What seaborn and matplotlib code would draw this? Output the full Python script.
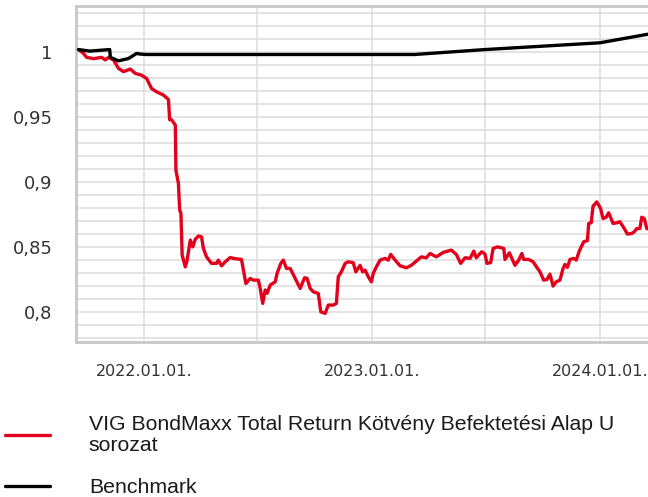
import matplotlib
matplotlib.use("Agg")
import matplotlib.pyplot as plt
import matplotlib.dates as mdates
from matplotlib.ticker import MultipleLocator, FuncFormatter
from matplotlib.font_manager import FontProperties
import pandas as pd
import seaborn as sns

# Fund (red) series
fund_dates = [
    "2021-09-18", "2021-09-26", "2021-10-01", "2021-10-12", "2021-10-25", "2021-10-31",
    "2021-11-05", "2021-11-13", "2021-11-21", "2021-11-29", "2021-12-10", "2021-12-18",
    "2021-12-28", "2022-01-05", "2022-01-13", "2022-01-21", "2022-02-01", "2022-02-09",
    "2022-02-11", "2022-02-14", "2022-02-20", "2022-02-21", "2022-02-25", "2022-02-27",
    "2022-03-01", "2022-03-03", "2022-03-08", "2022-03-11", "2022-03-16", "2022-03-20",
    "2022-03-24", "2022-03-29", "2022-04-03", "2022-04-06", "2022-04-11", "2022-04-19",
    "2022-04-27", "2022-04-30", "2022-05-05", "2022-05-11", "2022-05-19", "2022-05-24",
    "2022-06-06", "2022-06-13", "2022-06-20", "2022-06-25", "2022-07-03", "2022-07-06",
    "2022-07-10", "2022-07-14", "2022-07-17", "2022-07-22", "2022-07-30", "2022-08-02",
    "2022-08-08", "2022-08-12", "2022-08-17", "2022-08-23", "2022-08-31", "2022-09-08",
    "2022-09-15", "2022-09-19", "2022-09-24", "2022-09-29", "2022-10-07", "2022-10-11",
    "2022-10-18", "2022-10-23", "2022-10-31", "2022-11-05", "2022-11-08", "2022-11-13",
    "2022-11-19", "2022-11-24", "2022-12-02", "2022-12-06", "2022-12-13", "2022-12-17",
    "2022-12-21", "2022-12-26", "2022-12-31", "2023-01-03", "2023-01-08", "2023-01-14",
    "2023-01-22", "2023-01-27", "2023-01-31", "2023-02-07", "2023-02-15", "2023-02-25",
    "2023-03-05", "2023-03-13", "2023-03-21", "2023-03-29", "2023-04-04", "2023-04-14",
    "2023-04-25", "2023-05-08", "2023-05-16", "2023-05-23", "2023-05-30", "2023-06-07",
    "2023-06-13", "2023-06-17", "2023-06-23", "2023-06-26", "2023-07-01", "2023-07-04",
    "2023-07-10", "2023-07-14", "2023-07-21", "2023-07-31", "2023-08-02", "2023-08-09",
    "2023-08-13", "2023-08-18", "2023-08-24", "2023-08-29", "2023-09-01", "2023-09-09",
    "2023-09-16", "2023-09-22", "2023-09-27", "2023-10-03", "2023-10-08", "2023-10-13",
    "2023-10-18", "2023-10-23", "2023-10-29", "2023-11-03", "2023-11-06", "2023-11-10",
    "2023-11-14", "2023-11-20", "2023-11-24", "2023-11-29", "2023-12-06", "2023-12-12",
    "2023-12-14", "2023-12-18", "2023-12-21", "2023-12-27", "2024-01-02", "2024-01-06",
    "2024-01-11", "2024-01-15", "2024-01-18", "2024-01-22", "2024-01-28", "2024-02-02",
    "2024-02-09", "2024-02-14", "2024-02-21", "2024-02-25", "2024-02-29", "2024-03-05",
    "2024-03-08", "2024-03-12", "2024-03-16", "2024-03-18",
]
fund_values = [
    1.002, 0.999, 0.996, 0.995, 0.996, 0.994,
    0.996, 0.994, 0.9875, 0.985, 0.987, 0.9836,
    0.9823, 0.9798, 0.972, 0.9695, 0.967, 0.9636,
    0.948, 0.948, 0.944, 0.909, 0.899, 0.8785,
    0.876, 0.8438, 0.8348, 0.840, 0.8554, 0.8502,
    0.856, 0.8585, 0.858, 0.849, 0.8425, 0.8375,
    0.8375, 0.840, 0.8356, 0.8387, 0.842, 0.8413,
    0.8405, 0.822, 0.8259, 0.8246, 0.8246, 0.8182,
    0.8067, 0.817, 0.8144, 0.8208, 0.8233, 0.8298,
    0.8375, 0.840, 0.8336, 0.8336, 0.8259, 0.8182,
    0.8264, 0.826, 0.8182, 0.8156, 0.8144, 0.8002,
    0.799, 0.8054, 0.8054, 0.8067, 0.8272, 0.831,
    0.8375, 0.8387, 0.838, 0.831, 0.836, 0.831,
    0.8323, 0.8272, 0.8233, 0.8298, 0.8348, 0.840,
    0.8413, 0.840, 0.8444, 0.840, 0.8356, 0.8341,
    0.836, 0.8392, 0.8425, 0.8418, 0.8451, 0.8425,
    0.8459, 0.8477, 0.8444, 0.8375, 0.8418, 0.8413,
    0.8469, 0.8418, 0.8451, 0.8464, 0.8446, 0.8375,
    0.838, 0.849, 0.8502, 0.849, 0.8405, 0.8456,
    0.8413, 0.836, 0.840, 0.8451, 0.8405, 0.8405,
    0.8387, 0.8344, 0.831, 0.8246, 0.825, 0.8292,
    0.820, 0.8233, 0.8246, 0.8336, 0.8367, 0.8344,
    0.8405, 0.8413, 0.840, 0.847, 0.8541, 0.855,
    0.8682, 0.8687, 0.8815, 0.8848, 0.8798, 0.872,
    0.873, 0.8764, 0.873, 0.8682, 0.8687, 0.8695,
    0.8643, 0.860, 0.8605, 0.8618, 0.8643, 0.8643,
    0.873, 0.872, 0.8643, 0.864,
]

# Benchmark (black) series
bench_dates = [
    "2021-09-18", "2021-10-06", "2021-11-07", "2021-11-08", "2021-11-21", "2021-12-07",
    "2021-12-20", "2021-12-26", "2022-01-05", "2023-03-10", "2023-07-01", "2024-01-01",
    "2024-03-18",
]
bench_values = [
    1.002, 1.0008, 1.002, 0.996, 0.9933, 0.9951,
    0.999, 0.9985, 0.9982, 0.9982, 1.002, 1.0072,
    1.0138,
]

fund_label = "VIG BondMaxx Total Return Kötvény Befektetési Alap U\nsorozat"
bench_label = "Benchmark"
x_limits = ["2021-09-14", "2024-03-18"]
y_limits = [0.777, 1.0355]

fund = pd.DataFrame({"date": pd.to_datetime(fund_dates), "value": fund_values})
bench = pd.DataFrame({"date": pd.to_datetime(bench_dates), "value": bench_values})

sns.set_style("white")
plt.rcParams["font.family"] = ["DejaVu Sans"]

fig = plt.figure(figsize=(6.48, 4.97), dpi=100)
ax = fig.add_axes([0.1173, 0.3119, 0.8827, 0.676])

sns.lineplot(data=fund, x="date", y="value", ax=ax, color="#e3001b", linewidth=1.1,
             label=fund_label, zorder=3)
sns.lineplot(data=bench, x="date", y="value", ax=ax, color="black", linewidth=1.1,
             label=bench_label, zorder=3)

ax.set_xlim(pd.to_datetime(x_limits[0]), pd.to_datetime(x_limits[1]))
ax.set_ylim(*y_limits)
ax.set_xlabel("")
ax.set_ylabel("")

# y axis: labels every 0.05, gridlines every 0.01
ax.yaxis.set_major_locator(MultipleLocator(0.05))
ax.yaxis.set_minor_locator(MultipleLocator(0.01))
ax.yaxis.set_major_formatter(FuncFormatter(lambda v, p: f"{v:g}".replace(".", ",")))

# x axis: ticks each half year, labels only at year start
ax.xaxis.set_major_locator(mdates.MonthLocator(bymonth=[1, 7], bymonthday=1))
ax.xaxis.set_major_formatter(FuncFormatter(
    lambda v, p: mdates.num2date(v).strftime("%Y.%m.%d.") if mdates.num2date(v).month == 1 else ""))

grid_color = "#dcdcdc"
ax.grid(which="both", axis="y", color=grid_color, linewidth=1.1, zorder=0)
ax.grid(which="major", axis="x", color=grid_color, linewidth=1.1, zorder=0)
ax.set_axisbelow(True)

spine_color = "#c8c8c8"
for side in ["left", "top", "bottom"]:
    ax.spines[side].set_color(spine_color)
    ax.spines[side].set_linewidth(2.0)
ax.spines["right"].set_visible(False)

ax.tick_params(axis="y", which="major", length=8, width=1.5, color=spine_color,
               labelsize=13, labelcolor="#333333", pad=9)
ax.tick_params(axis="y", which="minor", length=2.5, width=1.5, color=spine_color)
ax.tick_params(axis="x", which="major", length=5, width=1.5, color=spine_color,
               labelsize=11.5, labelcolor="#333333", pad=11)

handles, labels = ax.get_legend_handles_labels()
for h in handles:
    h.set_linewidth(2.4)
leg = ax.legend(handles, labels, loc="upper left", bbox_to_anchor=(0.0077, 0.164),
                bbox_transform=fig.transFigure, frameon=False,
                prop=FontProperties(family="Liberation Sans", size=15.3),
                handlelength=2.1, handletextpad=1.85, labelspacing=1.1,
                borderpad=0, borderaxespad=0)
for t in leg.get_texts():
    t.set_linespacing(1.1)
    t.set_color("#1a1a1a")

fig.savefig("out.png", dpi=100)
